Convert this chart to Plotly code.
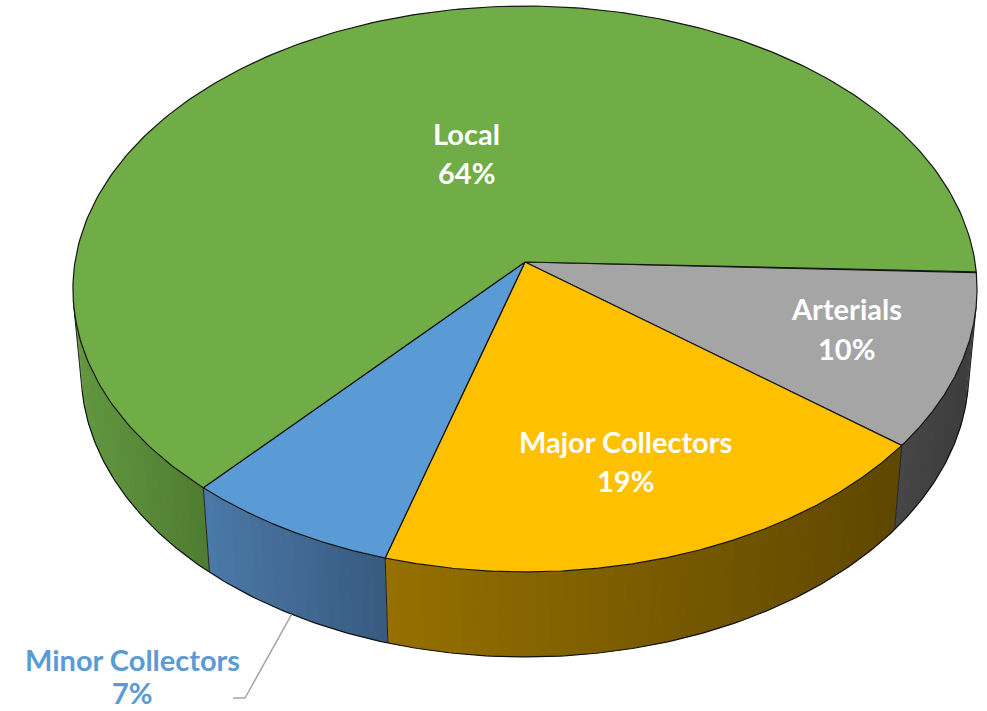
import numpy as np
import plotly.graph_objects as go

# Road network share by functional class
categories = ["Arterials", "Major Collectors", "Minor Collectors", "Local"]
shares = [10, 19, 7, 64]

top_colors = ["#A5A5A5", "#FFC000", "#5B9BD5", "#70AD47"]
# side-wall shading (left end, right end) for each slice
side_colors = [
    ((70, 70, 70), (60, 60, 60)),
    ((150, 112, 0), (94, 71, 0)),
    ((74, 121, 168), (56, 90, 127)),
    ((98, 152, 64), (79, 124, 49)),
]
label_colors = ["white", "white", "#5B9BD5", "white"]
label_pos = [(846, 308, 348), (625, 441, 480), (132, 659, 692), (466, 133, 172)]

# perspective camera for the tilted disc
CX, CY = 525.0, 262.0
S_A, C_A = 0.623, 0.782
DIST, FOC = 8.20, 3690.0
THICK = 0.239
START = 2.0  # degrees, clockwise from 3 o'clock


def proj(theta_deg, z=0.0):
    t = np.radians(np.asarray(theta_deg, dtype=float))
    X, Y = np.cos(t), np.sin(t)
    depth = DIST - (Y * C_A + z * S_A)
    u = FOC * X / depth
    v = FOC * (Y * S_A - z * C_A) / depth
    return CX + u, CY + v


def rgb(c):
    return "rgb(%d,%d,%d)" % tuple(int(round(k)) for k in c)


total = float(sum(shares))
bounds = [START]
for s in shares:
    bounds.append(bounds[-1] + 360.0 * s / total)

th_lo = np.degrees(np.arcsin(1.0 / (DIST * C_A)))
th_hi = 180.0 - th_lo

fig = go.Figure()

# outer wall, drawn as thin overlapping vertical strips carrying a gradient
for i in range(len(shares)):
    a0, a1 = max(bounds[i], th_lo), min(bounds[i + 1], th_hi)
    if a1 <= a0:
        continue
    xl, _ = proj(a1)
    xr, _ = proj(a0)
    n = max(1, int(np.ceil((a1 - a0) / 1.5)))
    edges = np.linspace(a0, a1, n + 1)
    cl, cr = np.array(side_colors[i][0]), np.array(side_colors[i][1])
    for j in range(n):
        hi = min(edges[j + 1] + 0.7, a1)
        e = np.linspace(edges[j], hi, 5)
        tx, ty = proj(e, 0.0)
        bx, by = proj(e[::-1], -THICK)
        xm, _ = proj(0.5 * (edges[j] + edges[j + 1]))
        t = (xm - xr) / (xl - xr) if xl != xr else 0.0
        col = rgb(cr + (cl - cr) * t)
        fig.add_trace(go.Scatter(
            x=np.r_[tx, bx, tx[0]], y=np.r_[ty, by, ty[0]],
            mode="lines", fill="toself", fillcolor=col,
            line=dict(width=0), hoverinfo="skip", showlegend=False))

# wall outlines: bottom rim and vertical edges
rim = np.linspace(th_lo, th_hi, 300)
bx, by = proj(rim, -THICK)
fig.add_trace(go.Scatter(x=bx, y=by, mode="lines",
                         line=dict(color="#111111", width=1.2),
                         hoverinfo="skip", showlegend=False))
verts = [th_lo, th_hi] + [b for b in bounds if th_lo < b < th_hi]
for a in verts:
    x0, y0 = proj(a, 0.0)
    x1, y1 = proj(a, -THICK)
    fig.add_trace(go.Scatter(x=[x0, x1], y=[y0, y1], mode="lines",
                             line=dict(color="#222222", width=1),
                             hoverinfo="skip", showlegend=False))

# top faces
for i in range(len(shares)):
    arc = np.linspace(bounds[i], bounds[i + 1], 240)
    ax, ay = proj(arc, 0.0)
    fig.add_trace(go.Scatter(
        x=np.r_[CX, ax, CX], y=np.r_[CY, ay, CY],
        mode="lines", fill="toself", fillcolor=top_colors[i],
        line=dict(color="#151515", width=1.2),
        hoverinfo="skip", showlegend=False, name=categories[i]))

# leader line for the outside label
mid = 0.5 * (bounds[2] + bounds[3])
lx, ly = proj(mid, -THICK)
fig.add_trace(go.Scatter(x=[lx, 245, 233], y=[ly, 698, 698], mode="lines",
                         line=dict(color="#A6A6A6", width=1.5),
                         hoverinfo="skip", showlegend=False))

annotations = []
for i, cat in enumerate(categories):
    x, y1, y2 = label_pos[i]
    for txt, yy in ((cat, y1), (f"{shares[i]}%", y2)):
        annotations.append(dict(
            x=x, y=yy, xref="x", yref="y", text=txt, showarrow=False,
            xanchor="center", yanchor="middle", borderpad=0,
            font=dict(family="Lato", size=29, color=label_colors[i], weight="bold")))

fig.update_layout(
    width=987, height=711, autosize=False,
    margin=dict(l=0, r=0, t=0, b=0),
    paper_bgcolor="white", plot_bgcolor="white",
    xaxis=dict(range=[0, 987], visible=False, fixedrange=True),
    yaxis=dict(range=[711, 0], visible=False, fixedrange=True),
    annotations=annotations,
    showlegend=False,
)

fig.write_html("out.html")
